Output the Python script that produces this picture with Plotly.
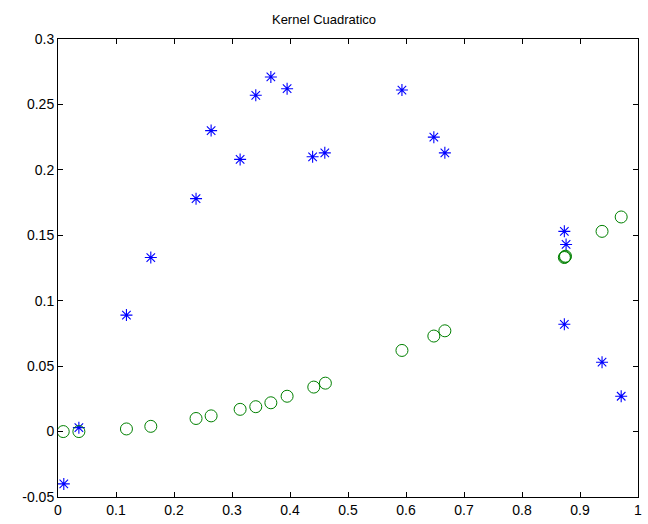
import plotly.graph_objects as go

star_x = [0.010, 0.036, 0.118, 0.160, 0.238, 0.264, 0.314, 0.341, 0.367, 0.395,
          0.439, 0.460, 0.593, 0.648, 0.667, 0.873, 0.876, 0.873, 0.938, 0.971]
star_y = [-0.040, 0.003, 0.089, 0.133, 0.178, 0.230, 0.208, 0.257, 0.271, 0.262,
          0.210, 0.213, 0.261, 0.225, 0.213, 0.153, 0.143, 0.082, 0.053, 0.027]

circ_x = [0.009, 0.036, 0.118, 0.160, 0.238, 0.264, 0.314, 0.341, 0.367, 0.395,
          0.441, 0.461, 0.593, 0.648, 0.667, 0.873, 0.874, 0.875, 0.938, 0.971]
circ_y = [0.000, 0.000, 0.002, 0.004, 0.010, 0.012, 0.017, 0.019, 0.022, 0.027,
          0.034, 0.037, 0.062, 0.073, 0.077, 0.133, 0.1335, 0.134, 0.153, 0.164]

x_ticks = [0, 0.1, 0.2, 0.3, 0.4, 0.5, 0.6, 0.7, 0.8, 0.9, 1]
x_labels = ["0", "0.1", "0.2", "0.3", "0.4", "0.5", "0.6", "0.7", "0.8", "0.9", "1"]
y_ticks = [-0.05, 0, 0.05, 0.1, 0.15, 0.2, 0.25, 0.3]
y_labels = ["-0.05", "0", "0.05", "0.1", "0.15", "0.2", "0.25", "0.3"]

fig = go.Figure()
fig.add_trace(go.Scatter(
    x=star_x, y=star_y, mode="markers",
    marker=dict(symbol="asterisk-open", size=10, color="#0000ff",
                line=dict(color="#0000ff", width=1.1)),
    showlegend=False))
fig.add_trace(go.Scatter(
    x=circ_x, y=circ_y, mode="markers",
    marker=dict(symbol="circle-open", size=12, color="#008000",
                line=dict(color="#008000", width=1)),
    showlegend=False))

axis_common = dict(showline=True, linecolor="black", linewidth=1, mirror="ticks",
                   ticks="inside", ticklen=5, tickcolor="black", showgrid=False,
                   zeroline=False, tickfont=dict(family="Liberation Sans, Arial", size=14, color="black"))

fig.update_layout(
    width=648, height=524,
    margin=dict(l=58, r=6, t=39, b=24),
    paper_bgcolor="white", plot_bgcolor="white",
    title=dict(text="Kernel Cuadratico", x=0.5, xanchor="center", y=1 - 19/524, yanchor="middle",
               font=dict(family="Liberation Sans, Arial", size=13, color="black")),
    xaxis=dict(range=[0, 1], tickvals=x_ticks, ticktext=x_labels, **axis_common),
    yaxis=dict(range=[-0.05, 0.3], tickvals=y_ticks, ticktext=y_labels, **axis_common),
)

fig.write_html("out.html")
